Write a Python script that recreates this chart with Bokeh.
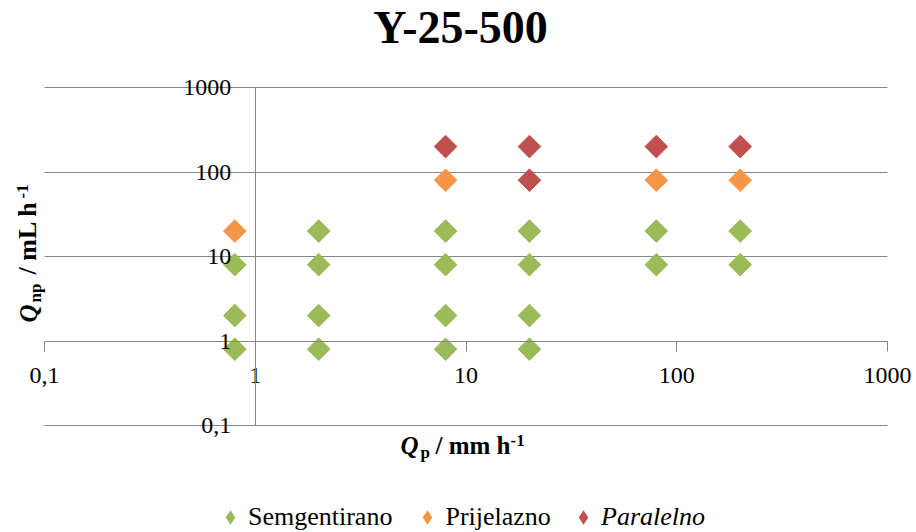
import math
from bokeh.plotting import figure
from bokeh.models import Range1d, FixedTicker, Legend, LegendItem, Label
from bokeh.embed import file_html
from bokeh.resources import INLINE

# ---- data ----
title_text = "Y-25-500"
tick_values = [0.1, 1, 10, 100, 1000]
tick_labels = ["0,1", "1", "10", "100", "1000"]

series_names = ["Semgentirano", "Prijelazno", "Paralelno"]
seg_x = [0.8, 0.8, 0.8, 2, 2, 2, 2, 8, 8, 8, 8, 20, 20, 20, 20, 80, 80, 200, 200]
seg_y = [8, 2, 0.8, 20, 8, 2, 0.8, 20, 8, 2, 0.8, 20, 8, 2, 0.8, 20, 8, 20, 8]
pri_x = [0.8, 8, 80, 200]
pri_y = [20, 80, 80, 80]
par_x = [8, 20, 20, 80, 200]
par_y = [200, 200, 80, 200, 200]

colors = ["#9BBB59", "#F79646", "#C0504D"]
grid_color = "#868686"
FONT = "Liberation Serif"

# ---- layout: the frame fills the canvas; the 0.1..1000 box sits inside it ----
W, H = 916, 532
BOX_L, BOX_R, BOX_T, BOX_B = 44, 887, 87, 425     # pixel box of 0.1..1000
lo, hi = math.log10(tick_values[0]), math.log10(tick_values[-1])
dx = (BOX_R - BOX_L) / (hi - lo)
dy = (BOX_B - BOX_T) / (hi - lo)
x_range = Range1d(10 ** (lo - BOX_L / dx), 10 ** (hi + (W - BOX_R) / dx))
y_range = Range1d(10 ** (lo - (H - BOX_B) / dy), 10 ** (hi + BOX_T / dy))

p = figure(width=W, height=H, x_axis_type="log", y_axis_type="log",
           x_range=x_range, y_range=y_range,
           output_backend="svg", toolbar_location=None,
           min_border_left=0, min_border_right=0,
           min_border_top=0, min_border_bottom=0)
p.outline_line_color = None
p.background_fill_color = "white"

p.xgrid.visible = False
p.ygrid.ticker = FixedTicker(ticks=tick_values, minor_ticks=[])
p.ygrid.grid_line_color = grid_color
p.ygrid.grid_line_width = 1
p.ygrid.cross_bounds = (tick_values[0], tick_values[-1])

overrides = dict(zip(tick_values, tick_labels))
for ax in (p.xaxis[0], p.yaxis[0]):
    ax.fixed_location = 1
    ax.bounds = (tick_values[0], tick_values[-1])
    ax.ticker = FixedTicker(ticks=tick_values, minor_ticks=[])
    ax.major_label_overrides = overrides
    ax.axis_line_color = grid_color
    ax.major_tick_line_color = grid_color
    ax.minor_tick_line_color = None
    ax.major_label_text_font = FONT
    ax.major_label_text_font_size = "24px"
    ax.major_label_text_color = "black"
    ax.major_tick_in = 0

p.xaxis[0].major_tick_out = 10
p.xaxis[0].major_label_standoff = 17
p.yaxis[0].major_tick_out = 0
p.yaxis[0].major_label_standoff = 24

xs = [seg_x, pri_x, par_x]
ys = [seg_y, pri_y, par_y]
rs = []
for sx, sy, c in zip(xs, ys, colors):
    rs.append(p.scatter(sx, sy, marker="square", size=16, angle=math.pi / 4,
                        fill_color=c, line_color=c))

# legend keys: same series drawn with zero-size diamonds, so only the legend
# shows their (diamond-shaped) key glyph
keys = [p.scatter(sx, sy, marker="diamond", size=0, fill_color=c, line_color=None)
        for sx, sy, c in zip(xs, ys, colors)]

leg_common = dict(orientation="horizontal", padding=0, margin=0,
                  border_line_color=None, background_fill_alpha=0,
                  label_text_font=FONT, label_text_font_size="26px",
                  label_text_color="black", glyph_width=36, glyph_height=36,
                  label_standoff=0, spacing=17)
leg1 = Legend(items=[LegendItem(label=series_names[0], renderers=[keys[0]]),
                     LegendItem(label=series_names[1], renderers=[keys[1]])],
              location=(212, -3), **leg_common)
leg2 = Legend(items=[LegendItem(label=series_names[2], renderers=[keys[2]])],
              location=(565, -3), label_text_font_style="italic", **leg_common)
p.add_layout(leg1)
p.add_layout(leg2)

# ---- texts (screen units: x from left, y from bottom) ----
def lab(text, x, y, size, style="bold", angle=0.0, align="left"):
    p.add_layout(Label(x=x, y=y, x_units="screen", y_units="screen", text=text,
                       text_font=FONT, text_font_size=size, text_font_style=style,
                       text_color="black", text_align=align,
                       text_baseline="alphabetic", angle=angle))

lab(title_text, 460, 505, "46px", "bold", align="center")

# x title: Q_p / mm h^-1
lab("Q", 400, 87, "25px", "bold italic")
lab("p", 420, 80, "17px")
lab("/ mm h", 435, 87, "25px")
lab("-1", 510, 92, "17px")

# y title: Q_np / mL h^-1 (rotated)
r90 = math.pi / 2
lab("Q", 28, 210, "25px", "bold italic", r90)
lab("np", 35, 230, "17px", "bold", r90)
lab("/ mL h", 27, 258, "26px", "bold", r90)
lab("-1", 22, 334, "17px", "bold", r90)

open("out.html", "w").write(file_html(p, INLINE))
